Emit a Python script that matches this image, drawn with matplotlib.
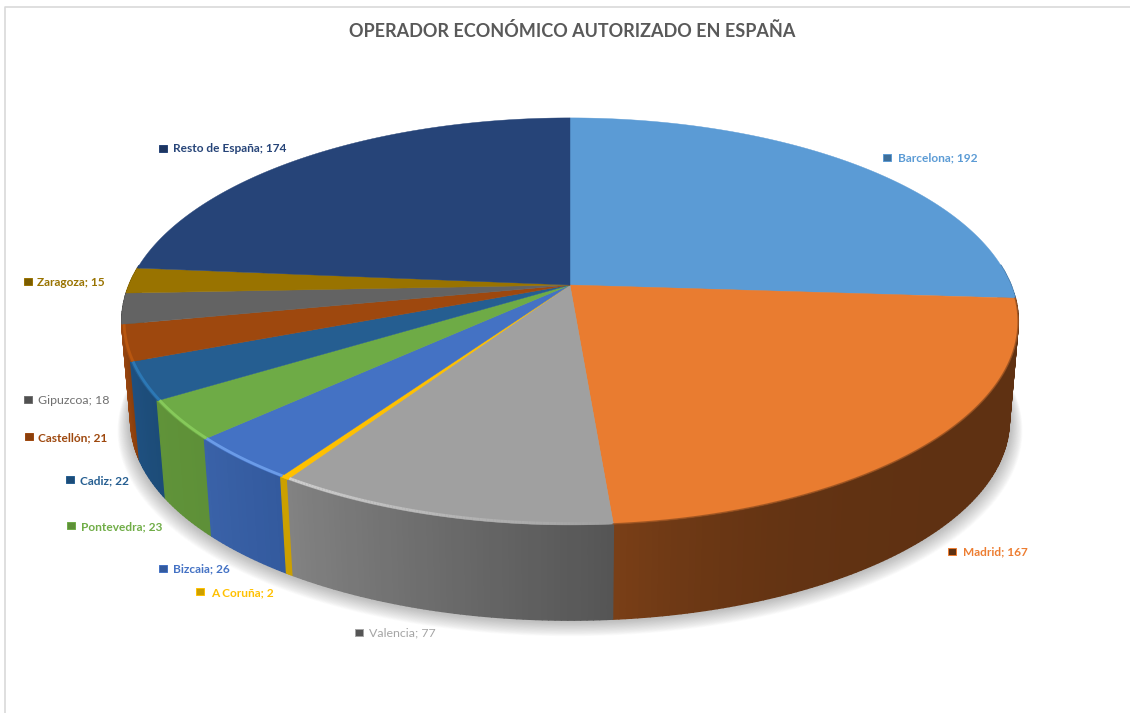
import numpy as np
import matplotlib
matplotlib.use('Agg')
import matplotlib.pyplot as plt
from matplotlib.collections import PolyCollection
from matplotlib.colors import to_rgb
from matplotlib.patches import Rectangle, Polygon

# data
categories = ['Barcelona', 'Madrid', 'Valencia', 'A Coruña', 'Bizcaia', 'Pontevedra',
              'Cadiz', 'Castellón', 'Gipuzcoa', 'Zaragoza', 'Resto de España']
values = [192, 167, 77, 2, 26, 23, 22, 21, 18, 15, 174]

# styles
top_colors = ['#5B9BD5', '#E97C30', '#A0A0A0', '#FFC000', '#4472C4', '#6EAB46',
              '#255E91', '#9E480E', '#636363', '#997300', '#264478']
wall_start = ['#3F6F9A', '#5F3112', '#555555', '#CCA000', '#335A9E', '#5E9038',
              '#1C4C78', '#8A3F0C', '#505050', '#7A5C00', '#1D3560']
wall_end = ['#3F6F9A', '#7A3F17', '#828282', '#CCA000', '#3A62A8', '#609339',
            '#1F5080', '#A14A12', '#505050', '#7A5C00', '#1D3560']
wall_pow = [1, 6, 1, 1, 1, 1, 1, 1, 1, 1, 1]
rim_colors = [None, None, '#CFCFCF', '#FFC000', '#6A9BE8', '#86C95A', '#2C78B5', '#B8560F',
              None, None, None]
text_colors = ['#5B9BD5', '#ED7D31', '#A5A5A5', '#FFC000', '#4472C4', '#70AD47',
               '#255E91', '#9E480E', '#707070', '#997300', '#264478']
label_x = [898, 963, 369, 211, 173, 81, 80, 38, 38, 37, 173]
label_y = [158, 552, 633, 593, 569, 527, 481, 438, 400, 282, 149]
marker_x = [887, 952, 359, 200, 163, 71, 70, 29, 28, 28, 163]
marker_y = [157, 551, 632, 591, 568, 525, 479, 436, 399, 281, 148]
weights = ['bold'] * 11
weights[2] = 'normal'
weights[8] = 'normal'

# perspective disc, theta goes clockwise from the top
CX, CY = 570, 285
A, B, K = 441, 197, 0.179
BOTTOM_CY, BOTTOM_S = 385, 0.98


def project(theta, r=1.0, cy=CY, s=1.0):
    u = r * np.sin(theta)
    v = -r * np.cos(theta)
    w = 1 - K * v
    return CX + s * A * u / w, cy + s * B * v / w


def mix(c1, c2, t):
    return tuple((1 - t) * a + t * b for a, b in zip(to_rgb(c1), to_rgb(c2)))


fig = plt.figure(figsize=(11.3, 7.13), dpi=100)
ax = fig.add_axes([0, 0, 1, 1])
ax.set_xlim(0, 1130)
ax.set_ylim(713, 0)
ax.axis('off')
plt.rcParams['font.family'] = ['Lato', 'DejaVu Sans']

# chart area border
ax.plot([5, 5, 1130], [713, 6.5, 6.5], color='#D9D9D9', lw=1.2)

ax.text(572, 31, 'OPERADOR ECONÓMICO AUTORIZADO EN ESPAÑA', ha='center', va='center',
        fontsize=13, fontweight='bold', color='#595959')

# soft shadow under the pie
t_all = np.linspace(0, 2 * np.pi, 360)
for i in range(22, 0, -1):
    f = i / 22
    sx, sy = project(t_all, cy=BOTTOM_CY + 9 * f, s=BOTTOM_S * (1 + 0.03 * f))
    ax.fill(sx, sy, color='#707070', alpha=0.022, lw=0, zorder=1)

edges = np.cumsum([0] + values) / sum(values) * 2 * np.pi

# side wall, drawn in thin strips, back ones first so the front covers them
strips = []
for i in range(len(values)):
    n = max(3, int((edges[i + 1] - edges[i]) / 0.012))
    t = np.linspace(edges[i], edges[i + 1], n + 1)
    x1, y1 = project(t)
    x2, y2 = project(t, cy=BOTTOM_CY, s=BOTTOM_S)
    for j in range(n):
        v = -np.cos((t[j] + t[j + 1]) / 2)
        if v < -0.1:
            continue
        quad = [(x1[j], y1[j]), (x1[j + 1], y1[j + 1]), (x2[j + 1], y2[j + 1]), (x2[j], y2[j])]
        strips.append((v, quad, mix(wall_start[i], wall_end[i], ((j + 0.5) / n) ** wall_pow[i])))
strips.sort(key=lambda s: s[0])
quads = [s[1] for s in strips]
cols = [s[2] for s in strips]
ax.add_collection(PolyCollection(quads, facecolors=cols, edgecolors=cols, linewidths=1.0, zorder=2))

# top face
for i in range(len(values)):
    t = np.linspace(edges[i], edges[i + 1], 200)
    x, y = project(t)
    pts = np.column_stack([np.r_[CX, x], np.r_[CY, y]])
    ax.add_patch(Polygon(pts, closed=True, facecolor=top_colors[i], edgecolor=top_colors[i],
                         lw=0.3, zorder=3))

# bevel light along the front rim
for i in range(len(values)):
    if rim_colors[i] is None:
        continue
    t = np.linspace(edges[i], edges[i + 1], 100)
    x, y = project(t, r=0.995)
    if categories[i] == 'Valencia':
        # fades out towards Madrid
        for j in range(99):
            ax.plot(x[j:j + 2], y[j:j + 2], color=mix(top_colors[i], rim_colors[i], j / 99),
                    lw=2, solid_capstyle='butt', zorder=4)
    else:
        ax.plot(x, y, color=rim_colors[i], lw=2, solid_capstyle='butt', zorder=4)

# dark soft edge above the Madrid wall
t = np.linspace(edges[1], edges[2], 200)
x, y = project(t)
ax.plot(x, y, color='#8A4A1E', lw=1.2, alpha=0.7, zorder=4)

# data labels
for i in range(len(values)):
    ax.add_patch(Rectangle((marker_x[i] - 4, marker_y[i] - 3.5), 8, 7, facecolor=wall_start[i],
                           edgecolor=text_colors[i], lw=0.7, zorder=5))
    size = 8.9 if weights[i] == 'normal' else 8.6
    ax.text(label_x[i], label_y[i], '%s; %d' % (categories[i], values[i]), ha='left', va='center',
            fontsize=size, fontweight=weights[i], color=text_colors[i], zorder=5)

fig.savefig('out.png', dpi=100)
